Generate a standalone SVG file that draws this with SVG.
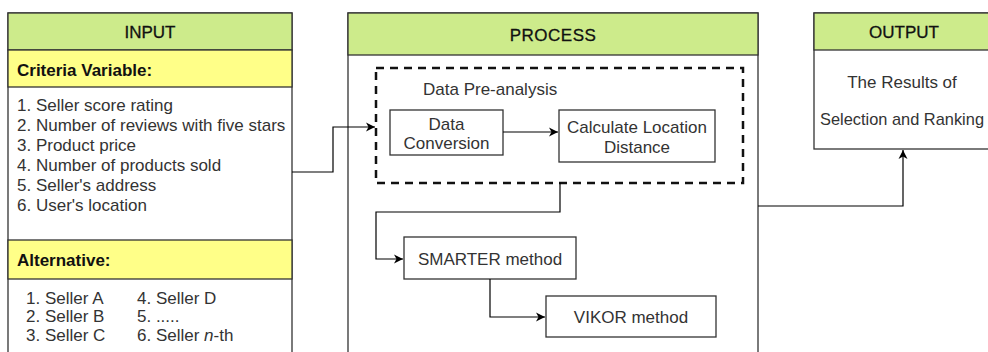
<svg xmlns="http://www.w3.org/2000/svg" width="988" height="352" viewBox="0 0 988 352">
<style>
.box{fill:#fff;stroke:#333;stroke-width:1.3}
.hdr{fill:#cdeb8b;stroke:#333;stroke-width:1.3}
.yel{fill:#ffff88;stroke:#333;stroke-width:1.3}
.t{font-family:"Liberation Sans",Arial,sans-serif;font-size:17px;fill:#333}
.h{font-family:"Liberation Sans",Arial,sans-serif;font-size:17px;fill:#111}
.b{font-weight:bold}
.c{text-anchor:middle}
.ln{fill:none;stroke:#000;stroke-width:1.2}
</style>
<defs>
<marker id="ah" markerWidth="11" markerHeight="11" refX="10" refY="5.5" orient="auto" markerUnits="userSpaceOnUse">
<path d="M1,1 L10,5.5 L1,10 L3.5,5.5 Z" fill="#000"/>
</marker>
</defs>
<rect width="988" height="352" fill="#fff"/>
<g id="input">
<rect class="box" x="8" y="13" width="284" height="345"/>
<rect class="hdr" x="8" y="13" width="284" height="37"/>
<text class="h c" x="150" y="38" stroke="#111" stroke-width="0.3">INPUT</text>
<rect class="yel" x="8" y="50" width="284" height="37"/>
<text class="h b" x="17" y="76">Criteria Variable:</text>
<text class="t" x="17" y="111">1. Seller score rating</text>
<text class="t" x="17" y="131">2. Number of reviews with five stars</text>
<text class="t" x="17" y="151">3. Product price</text>
<text class="t" x="17" y="171">4. Number of products sold</text>
<text class="t" x="17" y="191">5. Seller's address</text>
<text class="t" x="17" y="211">6. User's location</text>
<rect class="yel" x="8" y="240" width="284" height="39"/>
<text class="h b" x="17" y="266">Alternative:</text>
<text class="t" x="26" y="304">1. Seller A</text>
<text class="t" x="26" y="322">2. Seller B</text>
<text class="t" x="26" y="341">3. Seller C</text>
<text class="t" x="137" y="304">4. Seller D</text>
<text class="t" x="137" y="322">5. .....</text>
<text class="t" x="137" y="341">6. Seller <tspan font-style="italic">n</tspan>-th</text>
</g>
<g id="process">
<rect class="box" x="348" y="13" width="410" height="345"/>
<rect class="hdr" x="348" y="13" width="410" height="42"/>
<text class="h c" x="553" y="41" stroke="#111" stroke-width="0.3" letter-spacing="0.5">PROCESS</text>
</g>
<g id="preanalysis">
<rect x="376" y="68" width="367" height="115" fill="none" stroke="#111" stroke-width="2.5" stroke-dasharray="8,6"/>
<text class="t" x="423" y="95">Data Pre-analysis</text>
</g>
<g id="dataconv">
<rect class="box" x="390" y="110" width="113" height="45"/>
<text class="t c" x="446.5" y="130">Data</text>
<text class="t c" x="446.5" y="149">Conversion</text>
</g>
<g id="calcdist">
<rect class="box" x="559" y="110" width="156" height="52"/>
<text class="t c" x="637" y="133">Calculate Location</text>
<text class="t c" x="637" y="153">Distance</text>
</g>
<g id="smarter">
<rect class="box" x="404" y="237" width="172" height="42"/>
<text class="t c" x="490" y="265">SMARTER method</text>
</g>
<g id="vikor">
<rect class="box" x="546" y="296" width="170" height="41"/>
<text class="t c" x="631" y="323">VIKOR method</text>
</g>
<g id="output">
<rect class="box" x="814" y="13" width="180" height="136"/>
<rect class="hdr" x="814" y="13" width="180" height="37"/>
<text class="h c" x="904" y="38" stroke="#111" stroke-width="0.3">OUTPUT</text>
<text class="t c" x="902" y="88">The Results of</text>
<text class="t" x="820" y="125" textLength="164" lengthAdjust="spacingAndGlyphs">Selection and Ranking</text>
</g>
<g id="connectors">
<path class="ln" d="M292,172 H333 V127 H375" marker-end="url(#ah)"/>
<path class="ln" d="M503,132 H558" marker-end="url(#ah)"/>
<path class="ln" d="M560,183 V212 H376 V259 H403" marker-end="url(#ah)"/>
<path class="ln" d="M490,279 V317 H545" marker-end="url(#ah)"/>
<path class="ln" d="M758,206 H903 V150" marker-end="url(#ah)"/>
</g>
</svg>
